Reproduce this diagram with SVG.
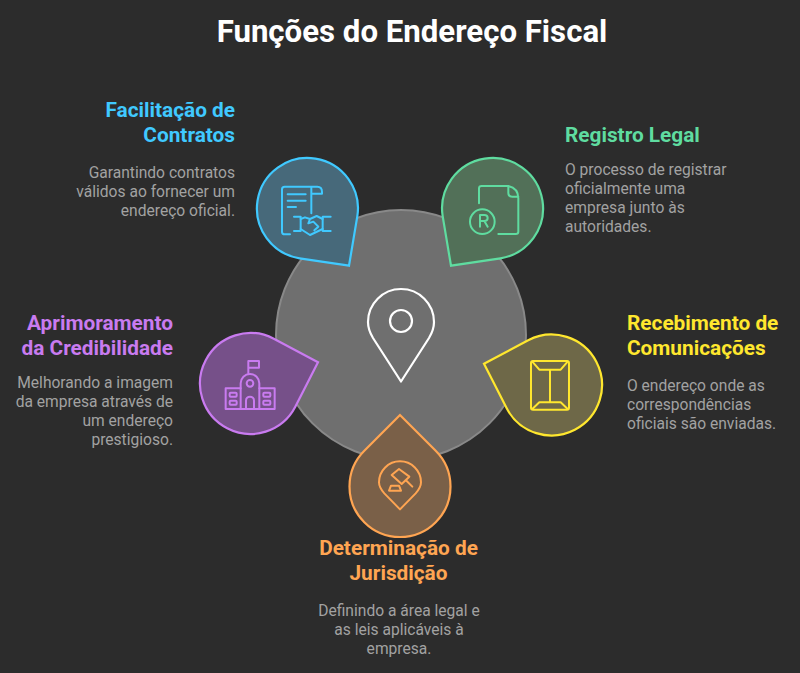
<svg xmlns="http://www.w3.org/2000/svg" width="800" height="673" viewBox="0 0 800 673">
<style>
text{font-family:Roboto,"Liberation Sans",sans-serif}
.t{font-size:31.2px;font-weight:700;fill:#fff;text-anchor:middle}
.h{font-size:20.8px;font-weight:700}
.b{font-size:15.6px;fill:#a2a2a2}
.r{text-anchor:end}.m{text-anchor:middle}
.i{fill:none;stroke-width:6;stroke-linecap:round;stroke-linejoin:round}
.d{stroke-width:2.2;stroke-linejoin:miter}
</style>
<rect width="800" height="673" fill="#2c2c2c"/>
<text class="t" x="412" y="42">Funções do Endereço Fiscal</text>
<g id="center">
<circle cx="401" cy="335" r="125" fill="#6f6f6f" stroke="#898989" stroke-width="2"/>
<path d="M401,381.5 L373,338 C370,333 368,328 368,322 A33,33 0 0 1 434,322 C434,328 432,333 429,338 Z" fill="none" stroke="#fff" stroke-width="2.2" stroke-linejoin="round"/>
<circle cx="401" cy="321" r="11" fill="none" stroke="#fff" stroke-width="2.2"/>
</g>
<g id="connectors"></g>
<g id="node-contratos">
<path class="d" d="M349,265.7 L299.6,258.3 A50.5,50.5 0 1 1 357.3,216.4 Z" fill="#47697a" stroke="#40c9ff"/>
<g class="i" stroke="#40c9ff" transform="translate(240 145) scale(.3333)">
<path d="M150,268 H134 Q126,268 126,260 V133 Q126,125 134,125 H232 Q246,125 246,140 V146 H214 M214,125 V205"/>
<path d="M143,148 H197 M143,167 H197 M143,186 H168"/>
</g>
<g class="i" stroke="#40c9ff" transform="translate(285 205) scale(.3333)">
<path d="M27,35 H47 V78 H27 M137,35 H113 V78 H137"/>
<path d="M47,42 L60,37 L75,42 L95,33 L113,42 M47,72 L75,90 L113,72 M75,42 L70,55 L85,50 L100,65 L88,76"/>
</g>
<text class="h r" fill="#40c9ff"><tspan x="235" y="117">Facilitação de</tspan><tspan x="235" y="142">Contratos</tspan></text>
<text class="b r"><tspan x="235" y="178">Garantindo contratos</tspan><tspan x="235" y="197">válidos ao fornecer um</tspan><tspan x="235" y="216">endereço oficial.</tspan></text>
</g>
<g id="node-registro">
<path class="d" d="M451,265.7 L442.7,216.4 A50.5,50.5 0 1 1 500.4,258.3 Z" fill="#527058" stroke="#5fdca0"/>
<g class="i" stroke="#5fdca0" transform="translate(465 180) scale(.3333)">
<path d="M42,70 V25 Q42,18 50,18 H130 Q160,25 160,55 V155 Q160,162 152,162 H100 M130,20 V38 Q130,50 142,50 H160"/>
<circle cx="52" cy="125" r="37"/>
<path d="M45,140 V105 H58 Q68,105 68,114 Q68,123 58,123 H45 M58,123 L68,140"/>
</g>
<text class="h" fill="#5fdca0" x="565" y="142">Registro Legal</text>
<text class="b"><tspan x="565" y="175">O processo de registrar</tspan><tspan x="565" y="194">oficialmente uma</tspan><tspan x="565" y="213">empresa junto às</tspan><tspan x="565" y="232">autoridades.</tspan></text>
</g>
<g id="node-credibilidade">
<path class="d" d="M318,362.3 L295.3,406.8 A50.5,50.5 0 1 1 273.8,338.7 Z" fill="#765089" stroke="#c97bf0"/>
<g class="i" stroke="#c97bf0" transform="translate(190 280) scale(.3333)">
<path d="M175,280 V243 H207 V263 H175"/>
<path d="M152,387 V310 A28,28 0 0 1 208,310 V387"/>
<path d="M152,325 H107 V387 H254 V325 H208"/>
<circle cx="180" cy="310" r="10"/>
<path d="M168,387 V362 A12,12 0 0 1 192,362 V387"/>
<rect x="119" y="338" width="21" height="12" rx="3"/><rect x="119" y="362" width="21" height="12" rx="3"/>
<rect x="220" y="338" width="21" height="12" rx="3"/><rect x="220" y="362" width="21" height="12" rx="3"/>
</g>
<text class="h r" fill="#c97bf0"><tspan x="173" y="330">Aprimoramento</tspan><tspan x="173" y="355">da Credibilidade</tspan></text>
<text class="b r"><tspan x="173" y="388">Melhorando a imagem</tspan><tspan x="173" y="407">da empresa através de</tspan><tspan x="173" y="426">um endereço</tspan><tspan x="173" y="445">prestigioso.</tspan></text>
</g>
<g id="node-comunicacoes">
<path class="d" d="M484,363.8 L528.2,340.2 A50.5,50.5 0 1 1 506.7,408.3 Z" fill="#6e6848" stroke="#ffe72e"/>
<g class="i" stroke="#ffe72e" transform="translate(470 320) scale(.3333)">
<rect x="183" y="123" width="114" height="146" rx="6"/>
<path d="M187,125 L208,149 H272 L293,125 M240,149 V247 M187,267 L208,247 H272 L293,267"/>
</g>
<text class="h" fill="#ffe72e"><tspan x="627" y="330">Recebimento de</tspan><tspan x="627" y="355">Comunicações</tspan></text>
<text class="b"><tspan x="627" y="391">O endereço onde as</tspan><tspan x="627" y="410">correspondências</tspan><tspan x="627" y="429">oficiais são enviadas.</tspan></text>
</g>
<g id="node-jurisdicao">
<path class="d" d="M400,415 L364.3,450.8 A50.5,50.5 0 1 0 435.7,450.8 Z" fill="#7a6048" stroke="#ffa552"/>
<g class="i" stroke="#ffa552" transform="translate(375 460) scale(.3333)">
<path d="M75,148 L28,100 C17,88 12,78 12,67 A63,63 0 0 1 138,67 C138,78 133,88 122,100 Z"/>
<path d="M72,27 L103,50 L80,72 L50,45 Z M92,60 L112,80"/>
<path d="M42,92 H78 L72,77 H48 Z"/>
</g>
<text class="h m" fill="#ffa552"><tspan x="398.5" y="555">Determinação de</tspan><tspan x="398.5" y="580">Jurisdição</tspan></text>
<text class="b m"><tspan x="399" y="616">Definindo a área legal e</tspan><tspan x="399" y="635">as leis aplicáveis à</tspan><tspan x="399" y="654">empresa.</tspan></text>
</g>
</svg>
